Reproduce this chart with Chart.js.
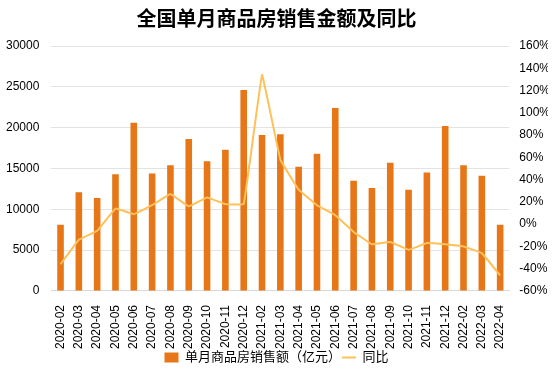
<!DOCTYPE html>
<html>
<head>
<meta charset="utf-8">
<script src="https://cdn.jsdelivr.net/npm/chart.js@4"></script>
<style>
  html, body { margin: 0; padding: 0; background: #fff; }
  #wrap { width: 554px; height: 374px; }
</style>
</head>
<body>
<div id="wrap"><canvas id="salesChart" width="554" height="374"></canvas></div>
<script>
var months = ['2020-02', '2020-03', '2020-04', '2020-05', '2020-06', '2020-07', '2020-08', '2020-09', '2020-10', '2020-11', '2020-12',
    '2021-02', '2021-03', '2021-04', '2021-05', '2021-06', '2021-07', '2021-08', '2021-09', '2021-10', '2021-11', '2021-12',
    '2022-02', '2022-03', '2022-04'];
var salesAmount = [8100, 12100, 11400, 14300, 20600, 14400, 15400, 18600, 15900, 17300, 24600,
    19100, 19200, 15200, 16800, 22400, 13500, 12600, 15700, 12400, 14500, 20200,
    15400, 14100, 8100];
var yoyPct = [-36, -14, -6, 14, 9, 17, 27, 16, 24, 18, 18,
    134, 58, 31, 17, 8, -7, -18, -16, -23, -17, -18,
    -20, -26, -46];

var fontFamily = '"Liberation Sans", "Noto Sans CJK SC", sans-serif';

var ctx = document.getElementById('salesChart').getContext('2d');
var myChart = new Chart(ctx, {
    data: {
        labels: months,
        datasets: [{
            type: 'line',
            label: '同比',
            data: yoyPct,
            yAxisID: 'yPct',
            borderColor: 'rgb(255, 192, 87)',
            backgroundColor: 'rgb(255, 192, 87)',
            borderWidth: 2,
            pointRadius: 0,
            pointStyle: 'line',
            tension: 0.05,
            order: 1
        }, {
            type: 'bar',
            label: '单月商品房销售额（亿元）',
            data: salesAmount,
            yAxisID: 'yAmt',
            backgroundColor: 'rgb(230, 118, 23)',
            pointStyle: 'rect',
            barPercentage: 0.36,
            categoryPercentage: 1,
            order: 2
        }]
    },
    options: {
        responsive: false,
        animation: false,
        layout: { padding: { left: 5, right: 6, top: 0, bottom: 0 } },
        plugins: {
            title: {
                display: true,
                text: '全国单月商品房销售金额及同比',
                color: '#000',
                font: { family: '"Noto Sans CJK SC", sans-serif', size: 20, weight: 'bold' },
                padding: { top: 6, bottom: 16 }
            },
            legend: {
                position: 'bottom',
                reverse: true,
                labels: {
                    usePointStyle: true,
                    pointStyleWidth: 14,
                    boxHeight: 10,
                    padding: 1,
                    color: '#000',
                    font: { family: fontFamily, size: 13 }
                }
            },
            tooltip: { enabled: false }
        },
        scales: {
            x: {
                grid: { display: false },
                border: { display: true, color: '#d9d9d9' },
                ticks: {
                    maxRotation: 90,
                    minRotation: 90,
                    autoSkip: false,
                    padding: 6,
                    color: '#000',
                    font: { family: fontFamily, size: 12 }
                },
                // labels sit closer to the legend than Chart.js leaves room for
                afterFit: function (scale) { scale.height -= 5; }
            },
            yAmt: {
                position: 'left',
                min: 0,
                max: 30000,
                ticks: {
                    stepSize: 5000,
                    padding: 12,
                    color: '#000',
                    font: { family: fontFamily, size: 12 },
                    callback: function (v) { return String(v); }
                },
                grid: { color: '#e3e3e3', drawTicks: false },
                border: { display: false },
                afterFit: function (scale) { scale.width -= 11; }
            },
            yPct: {
                position: 'right',
                min: -60,
                max: 160,
                ticks: {
                    stepSize: 20,
                    padding: 10,
                    color: '#000',
                    font: { family: fontFamily, size: 12 },
                    callback: function (v) { return v + '%'; }
                },
                grid: { display: false, drawTicks: false },
                border: { display: false },
                afterFit: function (scale) { scale.width -= 12; }
            }
        }
    }
});
</script>
</body>
</html>
